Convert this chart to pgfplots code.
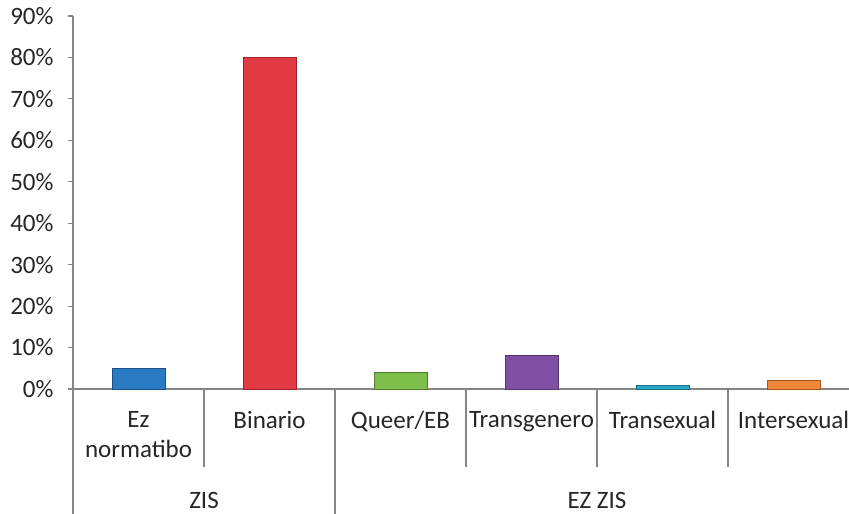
\documentclass[border=0pt]{standalone}
\usepackage{pgfplots}
\pgfplotsset{compat=1.18}
\usepackage{fontspec}
\setmainfont{Carlito}
\definecolor{axgray}{HTML}{868686}
\definecolor{txt}{HTML}{262626}
\definecolor{cblue}{HTML}{2B7BC4}\definecolor{eblue}{HTML}{1C4F86}
\definecolor{cred}{HTML}{E23A44}\definecolor{ered}{HTML}{9E2228}
\definecolor{cgreen}{HTML}{7CBF4A}\definecolor{egreen}{HTML}{4E7E2C}
\definecolor{cpurple}{HTML}{7E4FA3}\definecolor{epurple}{HTML}{553270}
\definecolor{ccyan}{HTML}{28A8C8}\definecolor{ecyan}{HTML}{1A7088}
\definecolor{corange}{HTML}{F0883A}\definecolor{eorange}{HTML}{A9561C}
\begin{document}
\begin{tikzpicture}[x=1pt,y=1pt]
\useasboundingbox (0,0) rectangle (849,514);
\begin{axis}[
  at={(73pt,125pt)}, anchor=south west,
  scale only axis, width=786pt, height=373pt,
  xmin=-0.5, xmax=5.5, ymin=0, ymax=90,
  axis lines*=left,
  axis line style={axgray, line width=1.2pt},
  ybar, bar width=53pt, bar shift=0pt,
  xtick={0,1,2,3,4,5},
  xticklabels={Ez\\normatibo, Binario, Queer/EB, Transgenero, Transexual, Intersexual},
  xticklabel style={align=center, anchor=north, text=txt, font=\fontsize{25}{30}\selectfont, yshift=-14pt},
  x tick style={draw=none},
  ytick={0,10,...,90},
  yticklabels={0\%,10\%,20\%,30\%,40\%,50\%,60\%,70\%,80\%,90\%},
  yticklabel style={anchor=east, text=txt, font=\fontsize{25}{30}\selectfont, xshift=-11pt},
  ytick align=outside, major tick length=5pt,
  y tick style={axgray, line width=1.2pt},
  clip=false,
]
\addplot[fill=cblue, draw=eblue, line width=0.8pt] coordinates {(0,5)};
\addplot[fill=cred, draw=ered, line width=0.8pt] coordinates {(1,80)};
\addplot[fill=cgreen, draw=egreen, line width=0.8pt] coordinates {(2,4)};
\addplot[fill=cpurple, draw=epurple, line width=0.8pt] coordinates {(3,8)};
\addplot[fill=ccyan, draw=ecyan, line width=0.8pt] coordinates {(4,0.8)};
\addplot[fill=corange, draw=eorange, line width=0.8pt] coordinates {(5,2)};
\draw[axgray, line width=1.2pt] (axis cs:-0.5,0) -- ([yshift=-125pt]axis cs:-0.5,0);
\draw[axgray, line width=1.2pt] (axis cs:1.5,0) -- ([yshift=-125pt]axis cs:1.5,0);
\draw[axgray, line width=1.2pt] (axis cs:5.5,0) -- ([yshift=-125pt]axis cs:5.5,0);
\draw[axgray, line width=1.2pt] (axis cs:0.5,0) -- ([yshift=-78pt]axis cs:0.5,0);
\draw[axgray, line width=1.2pt] (axis cs:2.5,0) -- ([yshift=-78pt]axis cs:2.5,0);
\draw[axgray, line width=1.2pt] (axis cs:3.5,0) -- ([yshift=-78pt]axis cs:3.5,0);
\draw[axgray, line width=1.2pt] (axis cs:4.5,0) -- ([yshift=-78pt]axis cs:4.5,0);
\node[text=txt, font=\fontsize{25}{30}\selectfont] at ([yshift=-111pt]axis cs:0.5,0) {ZIS};
\node[text=txt, font=\fontsize{25}{30}\selectfont] at ([yshift=-111pt]axis cs:3.5,0) {EZ ZIS};
\end{axis}
\end{tikzpicture}
\end{document}
